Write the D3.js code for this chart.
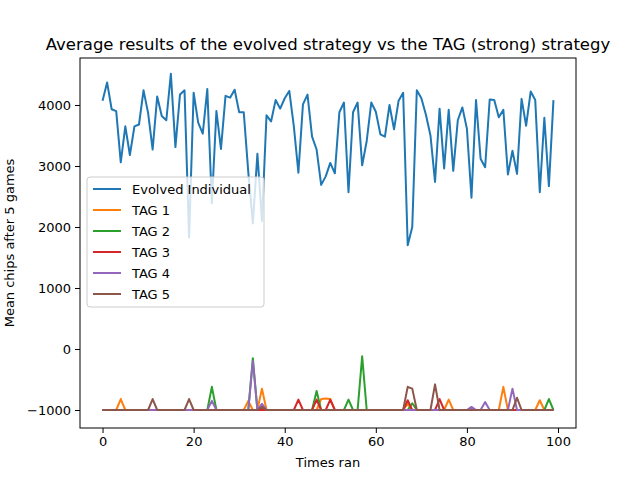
<!DOCTYPE html>
<html>
<head>
<meta charset="utf-8">
<script src="https://cdn.jsdelivr.net/npm/d3@7"></script>
<style>
  body { margin: 0; background: #fff; }
  text { font-family: "DejaVu Sans", sans-serif; }
</style>
</head>
<body>
<div id="chart"></div>
<script>
var evolved = [
  4070, 4370, 3930, 3900, 3060, 3650, 3180, 3650, 3680, 4240,
  3870, 3270, 4140, 3820, 3750, 4510, 3310, 4170, 4240, 1830,
  4200, 3710, 3530, 4260, 2390, 3900, 3280, 4150, 4120, 4250,
  3880, 3880, 2900, 2060, 3200, 2100, 3830, 3730, 4080, 3940,
  4110, 4230, 3650, 2890, 4010, 4170, 3480, 3270, 2690, 2830,
  3050, 2880, 3880, 4040, 2570, 3880, 4040, 3010, 3410, 4040,
  3890, 3520, 3480, 4000, 3600, 4070, 4200, 1700, 2000, 4240,
  4110, 3840, 3500, 2740, 3940, 2960, 3920, 2920, 3750, 3960,
  3610, 2480, 4080, 3120, 2980, 4090, 4080, 3800, 3920, 2860,
  3250, 2870, 4100, 3660, 4220, 4080, 2570, 3790, 2670, 4080
];
var tag1 = [
  -1000, -1000, -1000, -1000, -820, -1000, -1000, -1000, -1000, -1000,
  -1000, -1000, -1000, -1000, -1000, -1000, -1000, -1000, -1000, -1000,
  -1000, -1000, -1000, -1000, -1000, -1000, -1000, -1000, -1000, -1000,
  -1000, -1000, -850, -1000, -1000, -650, -1000, -1000, -1000, -1000,
  -1000, -1000, -1000, -1000, -1000, -1000, -1000, -1000, -820, -810,
  -820, -1000, -1000, -1000, -1000, -1000, -1000, -1000, -1000, -1000,
  -1000, -1000, -1000, -1000, -1000, -1000, -1000, -900, -1000, -1000,
  -1000, -1000, -1000, -1000, -1000, -1000, -830, -1000, -1000, -1000,
  -1000, -1000, -1000, -1000, -1000, -1000, -1000, -1000, -620, -1000,
  -1000, -1000, -1000, -1000, -1000, -1000, -840, -1000, -1000, -1000
];
var tag2 = [
  -1000, -1000, -1000, -1000, -1000, -1000, -1000, -1000, -1000, -1000,
  -1000, -1000, -1000, -1000, -1000, -1000, -1000, -1000, -1000, -1000,
  -1000, -1000, -1000, -1000, -620, -1000, -1000, -1000, -1000, -1000,
  -1000, -1000, -1000, -150, -1000, -1000, -1000, -1000, -1000, -1000,
  -1000, -1000, -1000, -1000, -1000, -1000, -1000, -690, -1000, -1000,
  -1000, -1000, -1000, -1000, -830, -1000, -1000, -120, -1000, -1000,
  -1000, -1000, -1000, -1000, -1000, -1000, -1000, -1000, -890, -1000,
  -1000, -1000, -1000, -1000, -1000, -1000, -1000, -1000, -1000, -1000,
  -1000, -1000, -1000, -1000, -1000, -1000, -1000, -1000, -1000, -1000,
  -1000, -1000, -1000, -1000, -1000, -1000, -1000, -1000, -820, -1000
];
var tag3 = [
  -1000, -1000, -1000, -1000, -1000, -1000, -1000, -1000, -1000, -1000,
  -1000, -1000, -1000, -1000, -1000, -1000, -1000, -1000, -1000, -1000,
  -1000, -1000, -1000, -1000, -1000, -1000, -1000, -1000, -1000, -1000,
  -1000, -1000, -1000, -1000, -1000, -1000, -1000, -1000, -1000, -1000,
  -1000, -1000, -1000, -830, -1000, -1000, -1000, -830, -1000, -1000,
  -830, -1000, -1000, -1000, -1000, -1000, -1000, -1000, -1000, -1000,
  -1000, -1000, -1000, -1000, -1000, -1000, -1000, -840, -1000, -1000,
  -1000, -1000, -1000, -1000, -820, -1000, -1000, -1000, -1000, -1000,
  -1000, -1000, -1000, -1000, -1000, -1000, -1000, -1000, -1000, -1000,
  -1000, -1000, -1000, -1000, -1000, -1000, -1000, -1000, -1000, -1000
];
var tag4 = [
  -1000, -1000, -1000, -1000, -1000, -1000, -1000, -1000, -1000, -1000,
  -1000, -1000, -1000, -1000, -1000, -1000, -1000, -1000, -1000, -1000,
  -1000, -1000, -1000, -1000, -850, -1000, -1000, -1000, -1000, -1000,
  -1000, -1000, -1000, -200, -1000, -900, -1000, -1000, -1000, -1000,
  -1000, -1000, -1000, -1000, -1000, -1000, -1000, -1000, -1000, -1000,
  -1000, -1000, -1000, -1000, -1000, -1000, -1000, -1000, -1000, -1000,
  -1000, -1000, -1000, -1000, -1000, -1000, -1000, -1000, -1000, -1000,
  -1000, -1000, -1000, -1000, -1000, -1000, -1000, -1000, -1000, -1000,
  -1000, -950, -1000, -1000, -870, -1000, -1000, -1000, -1000, -1000,
  -650, -1000, -1000, -1000, -1000, -1000, -1000, -1000, -1000, -1000
];
var tag5 = [
  -1000, -1000, -1000, -1000, -1000, -1000, -1000, -1000, -1000, -1000,
  -1000, -820, -1000, -1000, -1000, -1000, -1000, -1000, -1000, -820,
  -1000, -1000, -1000, -1000, -1000, -1000, -1000, -1000, -1000, -1000,
  -1000, -1000, -1000, -1000, -1000, -950, -1000, -1000, -1000, -1000,
  -1000, -1000, -1000, -1000, -1000, -1000, -1000, -1000, -1000, -1000,
  -1000, -1000, -1000, -1000, -1000, -1000, -1000, -1000, -1000, -1000,
  -1000, -1000, -1000, -1000, -1000, -1000, -1000, -620, -650, -1000,
  -1000, -1000, -1000, -580, -1000, -1000, -1000, -1000, -1000, -1000,
  -1000, -1000, -1000, -1000, -1000, -1000, -1000, -1000, -1000, -1000,
  -1000, -800, -1000, -1000, -1000, -1000, -1000, -1000, -1000, -1000
];
var seriesNames = ["Evolved Individual", "TAG 1", "TAG 2", "TAG 3", "TAG 4", "TAG 5"];
var seriesColors = ["#1f77b4", "#ff7f0e", "#2ca02c", "#d62728", "#9467bd", "#8c564b"];
var xTicks = [0, 20, 40, 60, 80, 100];
var yTicks = [-1000, 0, 1000, 2000, 3000, 4000];

var allSeries = [evolved, tag1, tag2, tag3, tag4, tag5];

var svg = d3.select("#chart").append("svg")
  .attr("width", 640).attr("height", 480);

var margin = {left: 80, right: 576, top: 58, bottom: 428};

var x = d3.scaleLinear().domain([-4.95, 103.95]).range([margin.left, margin.right]);
var y = d3.scaleLinear().domain([-1295, 4770]).range([margin.bottom, margin.top]);

var line = d3.line().x((d, i) => x(i)).y(d => y(d));

allSeries.forEach(function(s, k) {
  svg.append("path")
    .datum(s)
    .attr("fill", "none")
    .attr("stroke", seriesColors[k])
    .attr("stroke-width", 2)
    .attr("stroke-linejoin", "round")
    .attr("d", line);
});

// axes
var xAxis = svg.append("g")
  .attr("transform", `translate(0,${margin.bottom})`)
  .call(d3.axisBottom(x).tickValues(xTicks).tickSize(5).tickPadding(4));
var yAxis = svg.append("g")
  .attr("transform", `translate(${margin.left},0)`)
  .call(d3.axisLeft(y).tickValues(yTicks).tickSize(5).tickPadding(4).tickFormat(d => d < 0 ? "\u2212" + Math.abs(d) : d));
[xAxis, yAxis].forEach(function(a) {
  a.selectAll("text").attr("font-size", 13).attr("fill", "#000").style("font-family", "DejaVu Sans");
  a.select(".domain").remove();
  a.selectAll("line").attr("stroke", "#000").attr("stroke-width", 1);
});

svg.append("rect")
  .attr("x", margin.left).attr("y", margin.top)
  .attr("width", margin.right - margin.left).attr("height", margin.bottom - margin.top)
  .attr("fill", "none").attr("stroke", "#000").attr("stroke-width", 1);

// titles
svg.append("text").attr("x", (margin.left + margin.right) / 2).attr("y", 50)
  .attr("text-anchor", "middle").attr("font-size", 16.5)
  .text("Average results of the evolved strategy vs the TAG (strong) strategy");
svg.append("text").attr("x", (margin.left + margin.right) / 2).attr("y", 467)
  .attr("text-anchor", "middle").attr("font-size", 13).text("Times ran");
svg.append("text")
  .attr("transform", `translate(14,${(margin.top + margin.bottom) / 2}) rotate(-90)`)
  .attr("text-anchor", "middle").attr("font-size", 13).text("Mean chips after 5 games");

// legend
var legend = svg.append("g").attr("transform", "translate(87,177)");
legend.append("rect")
  .attr("width", 177).attr("height", 130).attr("rx", 3)
  .attr("fill", "#fff").attr("fill-opacity", 0.8)
  .attr("stroke", "#ccc").attr("stroke-width", 1);
seriesNames.forEach(function(name, k) {
  var yy = 12 + k * 21;
  legend.append("line").attr("x1", 6).attr("x2", 34).attr("y1", yy).attr("y2", yy)
    .attr("stroke", seriesColors[k]).attr("stroke-width", 2);
  legend.append("text").attr("x", 45).attr("y", yy + 5).attr("font-size", 13).text(name);
});
</script>
</body>
</html>
